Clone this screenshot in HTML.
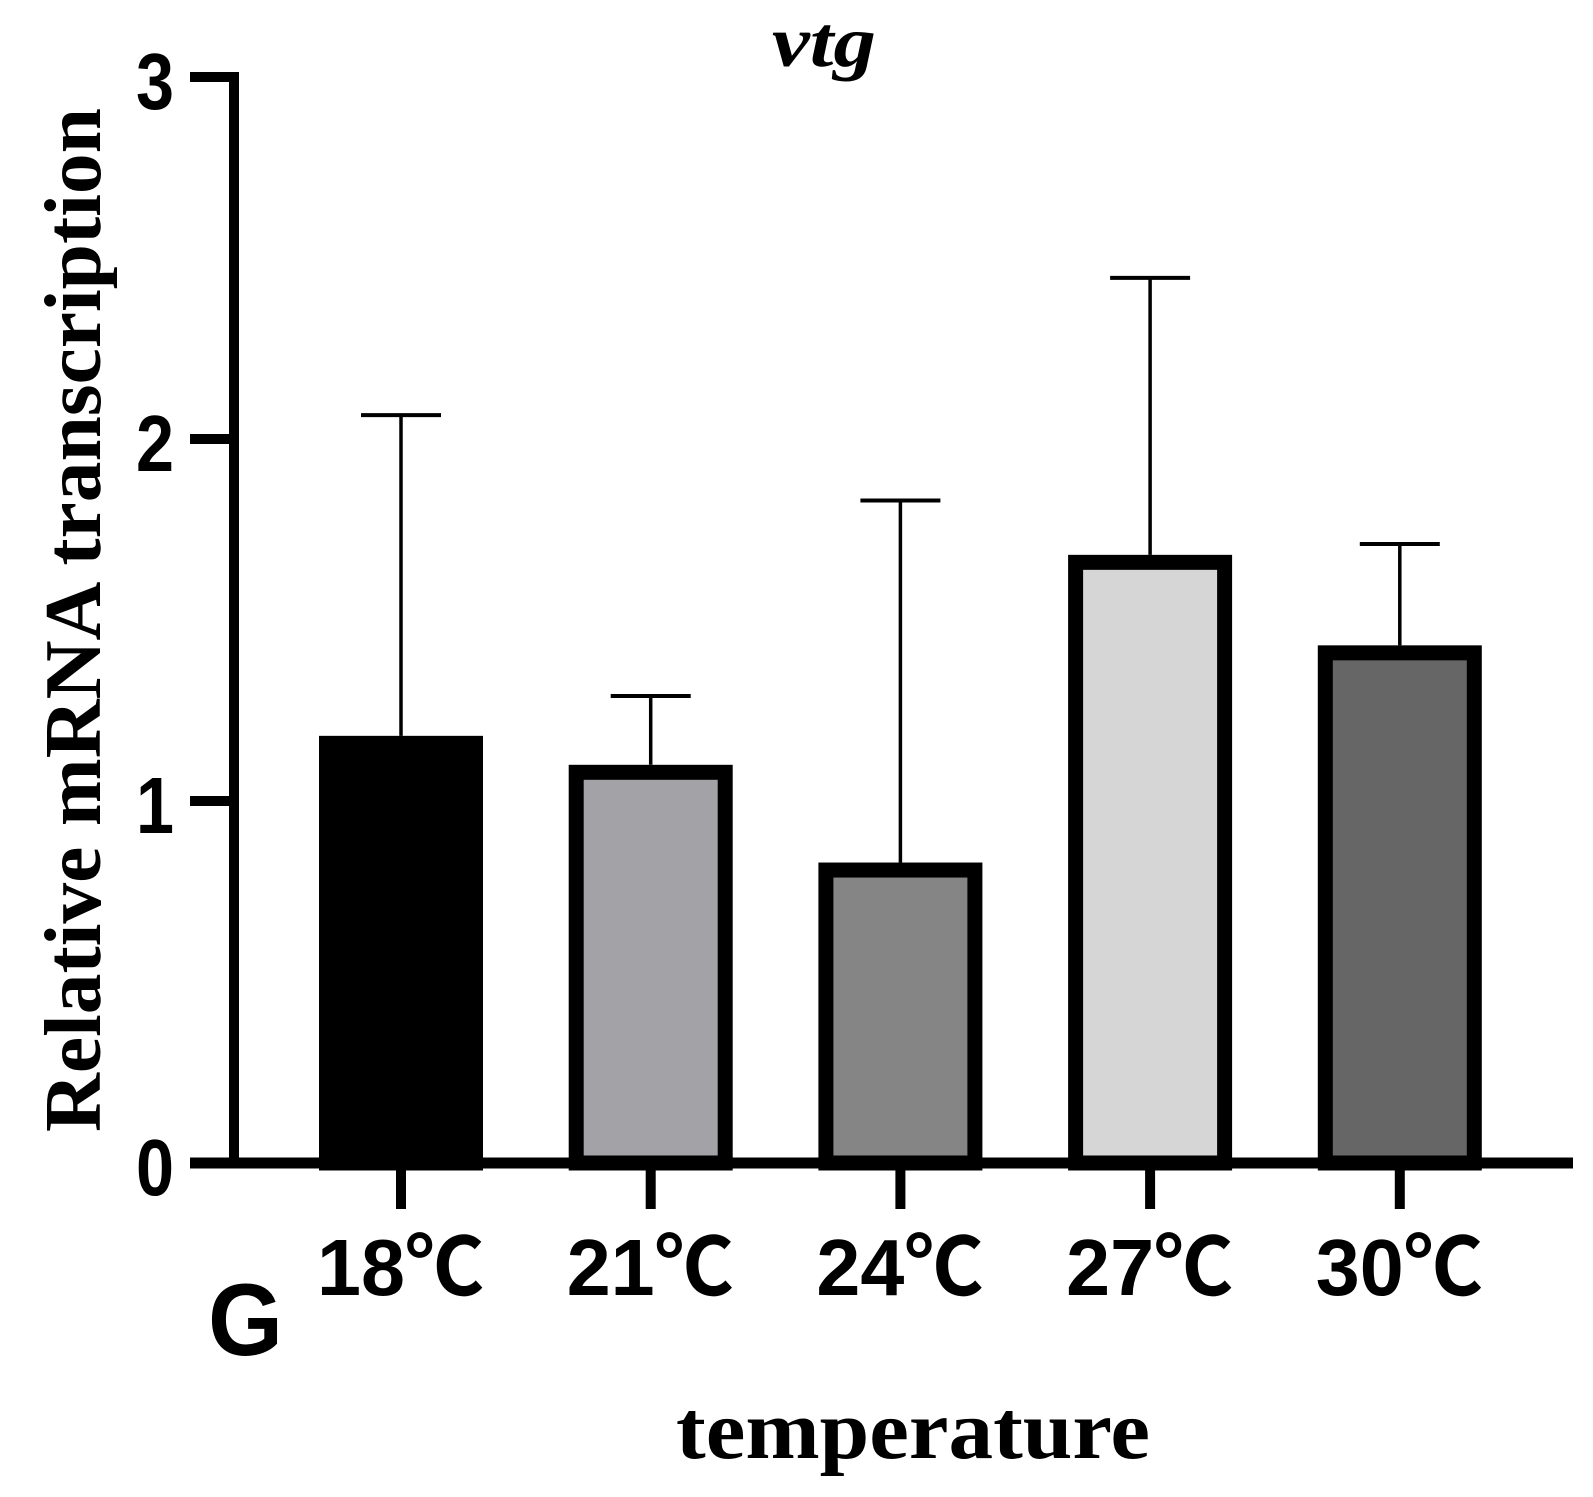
<!DOCTYPE html>
<html><head><meta charset="utf-8"><style>
html,body{margin:0;padding:0;background:#fff;}
svg{display:block;}
</style></head><body>
<svg id="chart" width="1593" height="1497" viewBox="0 0 1593 1497" xmlns="http://www.w3.org/2000/svg">
<text x="772" y="66" textLength="104" lengthAdjust="spacingAndGlyphs" font-family="Liberation Serif, serif" font-style="italic" font-weight="bold" font-size="72">vtg</text>
<text transform="translate(100,1132) rotate(-90)" textLength="1024" lengthAdjust="spacingAndGlyphs" font-family="Liberation Serif, serif" font-weight="bold" font-size="80">Relative mRNA transcription</text>
<text x="676" y="1458" textLength="474" lengthAdjust="spacingAndGlyphs" font-family="Liberation Serif, serif" font-weight="bold" font-size="84">temperature</text>
<text x="208" y="1355" textLength="75" lengthAdjust="spacingAndGlyphs" font-family="Liberation Sans, sans-serif" font-weight="bold" font-size="102">G</text>
<g id="plot"></g>
</svg>
<script>
const categories = ["18℃","21℃","24℃","27℃","30℃"];
const means = [1.18, 1.10, 0.83, 1.68, 1.43];
const errors = [0.886, 0.19, 1.00, 0.765, 0.28];
const fills = ["#000000","#a3a2a6","#858585","#d6d6d6","#666666"];
const yTicks = [0,1,2,3];

const NS = "http://www.w3.org/2000/svg";
const g = document.getElementById("plot");
const y0 = 1163, yTop = 77, yMax = 3;
const x0 = 234, xEnd = 1573;
const yScale = v => y0 - (y0 - yTop) * v / yMax;
const xCenter = i => 401 + i * 249.7;
const barW = 164;
function el(tag, attrs){const e=document.createElementNS(NS,tag);for(const k in attrs)e.setAttribute(k,attrs[k]);g.appendChild(e);return e;}

categories.forEach((c,i)=>{
  const cx = xCenter(i), top = yScale(means[i]), et = yScale(means[i]+errors[i]);
  const err = el("line",{x1:cx,x2:cx,y1:et,y2:top,stroke:"#000","stroke-width":3.5});
  
  
  const cap = el("line",{x1:cx-40,x2:cx+40,y1:et,y2:et,stroke:"#000","stroke-width":4});
  
  
  const sw = 15;
  const r = el("rect",{x:cx-barW/2+sw/2,y:top+sw/2,width:barW-sw,height:y0-top-sw/2,fill:fills[i],stroke:"#000","stroke-width":sw});
  
  
  const t = el("line",{x1:cx,x2:cx,y1:y0,y2:y0+46,stroke:"#000","stroke-width":10});
  
  
  const lb = el("text",{x:cx-84,y:1295,textLength:167,lengthAdjust:"spacingAndGlyphs","font-family":"Liberation Sans, Noto Sans CJK SC, sans-serif","font-weight":"bold","font-size":80});
  lb.textContent = c;
  
  
});
const ya = el("line",{x1:x0,x2:x0,y1:yTop-5,y2:y0+5,stroke:"#000","stroke-width":10});


const xa = el("line",{x1:190,x2:xEnd,y1:y0,y2:y0,stroke:"#000","stroke-width":11});


yTicks.forEach(v=>{
  const t = el("line",{x1:190,x2:x0,y1:yScale(v),y2:yScale(v),stroke:"#000","stroke-width":10});
  
  
  const lb = el("text",{x:174,y:yScale(v)+32,textLength:38,lengthAdjust:"spacingAndGlyphs","font-family":"Liberation Sans, sans-serif","font-weight":"bold","font-size":80,"text-anchor":"end"});
  lb.textContent = v;
  
  
});
</script>
</body></html>
